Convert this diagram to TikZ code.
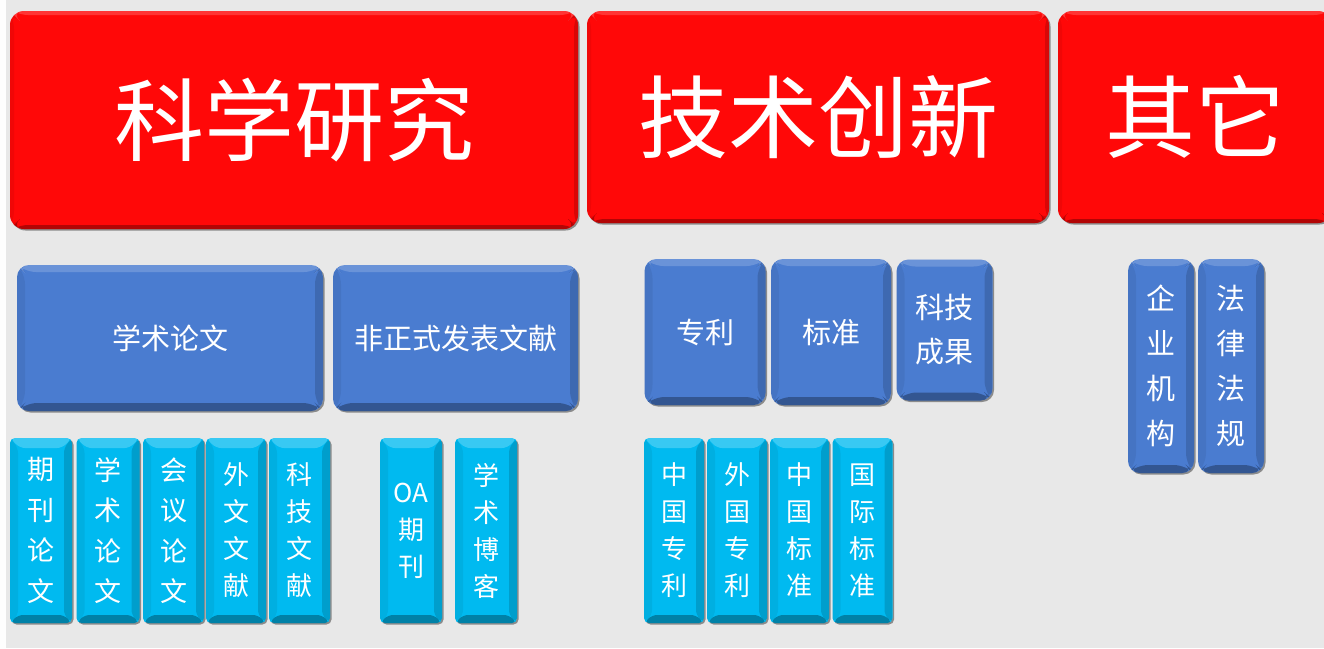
\documentclass[tikz,border=0pt]{standalone}
\usepackage{fontspec}
\newfontfamily\cjk{Noto Sans CJK SC}
\usetikzlibrary{shadows}
\definecolor{bg}{RGB}{232,232,232}
\definecolor{myred}{RGB}{255,8,8}
\definecolor{myblue}{RGB}{74,124,208}
\definecolor{mycyan}{RGB}{0,186,240}
\tikzset{
  bev/.style n args={3}{path picture={
    \fill[white,opacity=#3] (path picture bounding box.north west) -- (path picture bounding box.north east)
      -- ([xshift=-#1,yshift=-#1]path picture bounding box.north east) -- ([xshift=#1,yshift=-#1]path picture bounding box.north west) -- cycle;
    \fill[black,opacity=.3] (path picture bounding box.south west) -- (path picture bounding box.south east)
      -- ([xshift=-#2,yshift=#2]path picture bounding box.south east) -- ([xshift=#2,yshift=#2]path picture bounding box.south west) -- cycle;
    \fill[black,opacity=.15] (path picture bounding box.north east) -- (path picture bounding box.south east)
      -- ([xshift=-#2,yshift=#2]path picture bounding box.south east) -- ([xshift=-#2,yshift=-#1]path picture bounding box.north east) -- cycle;
    \fill[black,opacity=.06] (path picture bounding box.north west) -- (path picture bounding box.south west)
      -- ([xshift=#2,yshift=#2]path picture bounding box.south west) -- ([xshift=#2,yshift=-#1]path picture bounding box.north west) -- cycle;
  }},
  box/.style={rectangle, text=white, align=center, inner sep=0pt,
    drop shadow={shadow xshift=1.5pt, shadow yshift=-1.5pt, fill=black, opacity=.4}},
  redbox/.style={box, fill=myred, rounded corners=14pt, bev={4pt}{4pt}{.18},
    font=\cjk\fontsize{90}{100}\selectfont},
  bluebox/.style={box, fill=myblue, rounded corners=12pt, bev={7pt}{8pt}{.18},
    font=\cjk\fontsize{29}{44}\selectfont},
  cyanbox/.style={box, fill=mycyan, rounded corners=5pt, bev={10pt}{8pt}{.22},
    minimum height=185pt, font=\cjk\fontsize{26}{37}\selectfont},
  wide/.style={font=\cjk\fontsize{27}{40.5}\selectfont}
}
\begin{document}
\begin{tikzpicture}[x=1pt,y=-1pt]
\useasboundingbox (0,0) rectangle (1324,648);
\clip (0,0) rectangle (1324,648);
\fill[bg] (0,0) rectangle (1324,648);
\fill[white!95!bg] (0,0) rectangle (6,648);
% top level
\node[redbox, minimum width=568pt, minimum height=218pt] (sci) at (294,120) {科学研究};
\node[redbox, minimum width=462pt, minimum height=212pt] (tech) at (818,117) {技术创新};
\node[redbox, minimum width=274pt, minimum height=212pt] (other) at (1195,117) {其它};
% second level
\node[bluebox, minimum width=306pt, minimum height=146pt] (xslw) at (170,338) {学术论文};
\node[bluebox, minimum width=245pt, minimum height=146pt] (fzs) at (455.5,338) {非正式发表文献};
\node[bluebox, minimum width=121pt, minimum height=146pt] (zl) at (705,332) {专利};
\node[bluebox, minimum width=120pt, minimum height=146pt] (bz) at (831,332) {标准};
\node[bluebox, minimum width=96pt, minimum height=141pt] (kjcg) at (944.5,330) {科技\\成果};
\node[bluebox, minimum width=66pt, minimum height=214pt, font=\cjk\fontsize{29}{45}\selectfont] (qyjg) at (1161,366) {企\\业\\机\\构};
\node[bluebox, minimum width=66pt, minimum height=214pt, font=\cjk\fontsize{29}{45}\selectfont] (flfg) at (1231,366) {法\\律\\法\\规};
% third level
\node[cyanbox, wide, minimum width=62pt] (qklw) at (41,530.5) {期\\刊\\论\\文};
\node[cyanbox, wide, minimum width=63pt] (xslw2) at (108,530.5) {学\\术\\论\\文};
\node[cyanbox, wide, minimum width=61pt] (hylw) at (173.5,530.5) {会\\议\\论\\文};
\node[cyanbox, minimum width=60pt] (wwwx) at (236,530.5) {外\\文\\文\\献};
\node[cyanbox, minimum width=61pt] (kjwx) at (299.5,530.5) {科\\技\\文\\献};
\node[cyanbox, minimum width=62pt] (oaqk) at (411,530.5) {OA\\期\\刊};
\node[cyanbox, minimum width=62pt] (xsbk) at (486,530.5) {学\\术\\博\\客};
\node[cyanbox, minimum width=60pt] (zgzl) at (674,530.5) {中\\国\\专\\利};
\node[cyanbox, minimum width=60pt] (wgzl) at (737,530.5) {外\\国\\专\\利};
\node[cyanbox, minimum width=59pt] (zgbz) at (799.5,530.5) {中\\国\\标\\准};
\node[cyanbox, minimum width=60pt] (gjbz) at (862.5,530.5) {国\\际\\标\\准};
\end{tikzpicture}
\end{document}
